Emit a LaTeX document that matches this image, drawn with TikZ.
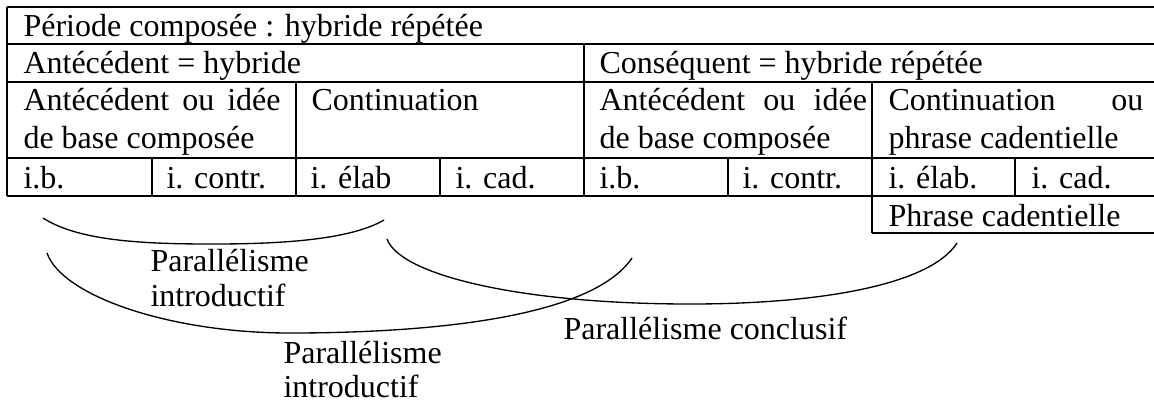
\documentclass[tikz,border=0pt]{standalone}
\usepackage{fontspec}
\setmainfont{Liberation Serif}
\begin{document}
\begin{tikzpicture}[x=0.375pt,y=-0.375pt,
  grid/.style={line width=0.8pt},
  arc/.style={line width=0.5pt},
  txt/.style={anchor=base west,inner sep=0pt,font=\fontsize{12}{13.8}\selectfont}]
\useasboundingbox (0,0) rectangle (1154,402);
% table lines
\draw[grid] (7,7) -- (1154,7);
\draw[grid] (7,44) -- (1154,44);
\draw[grid] (7,82) -- (1154,82);
\draw[grid] (7,158) -- (1154,158);
\draw[grid] (7,196) -- (1154,196);
\draw[grid] (872,233) -- (1154,233);
\draw[grid] (7,7) -- (7,196);
\draw[grid] (584,44) -- (584,196);
\draw[grid] (296,82) -- (296,196);
\draw[grid] (872,82) -- (872,233);
\foreach \x in {152,440,728,1015} \draw[grid] (\x,158) -- (\x,196);
% texts
\node[txt] (t1) at (23,36) {Période composée : hybride répétée};
\node[txt] (t2a) at (23,73) {Antécédent = hybride};
\node[txt] (t2b) at (599,73) {Conséquent = hybride répétée};
\node[txt] (t3a1) at (23,110) {\makebox[96.4pt][s]{Antécédent ou idée}};
\node[txt] (t3a2) at (23,148) {de base composée};
\node[txt] (t3b) at (311,110) {Continuation};
\node[txt] (t3c1) at (599,110) {\makebox[100.3pt][s]{Antécédent ou idée}};
\node[txt] (t3c2) at (599,148) {de base composée};
\node[txt] (t3d1) at (888,110) {\makebox[95.6pt][s]{Continuation ou}};
\node[txt] (t3d2) at (888,148) {phrase cadentielle};
\node[txt] (r1) at (23,188) {i.b.};
\node[txt] (r2) at (166,188) {i. contr.};
\node[txt] (r3) at (310,188) {i. élab};
\node[txt] (r4) at (455,188) {i. cad.};
\node[txt] (r5) at (599,188) {i.b.};
\node[txt] (r6) at (742,188) {i. contr.};
\node[txt] (r7) at (888,188) {i. élab.};
\node[txt] (r8) at (1031,188) {i. cad.};
\node[txt] (pc) at (888,226) {Phrase cadentielle};
% labels
\node[txt] (l1a) at (150,271) {Parallélisme};
\node[txt] (l1b) at (150,306) {introductif};
\node[txt] (l2a) at (283,363) {Parallélisme};
\node[txt] (l2b) at (283,397) {introductif};
\node[txt] (l3) at (563,339) {Parallélisme conclusif};
% arcs
\coordinate (a1s) at (43,218);
\coordinate (a1m) at (213,244);
\coordinate (a1e) at (384,220);
\coordinate (a2s) at (47,253);
\coordinate (a2m) at (290,333);
\coordinate (a2e) at (632,258);
\coordinate (a3s) at (387,239);
\coordinate (a3m) at (690,304);
\coordinate (a3e) at (957,243);
\draw[arc] (a1s) .. controls (80,242) and (150,244) .. (a1m)
  .. controls (280,244) and (350,240) .. (a1e);
\draw[arc] (a2s) .. controls (62,296) and (170,333) .. (a2m)
  .. controls (420,333) and (590,320) .. (a2e);
\draw[arc] (a3s) .. controls (400,275) and (520,304) .. (a3m)
  .. controls (820,304) and (930,285) .. (a3e);
\end{tikzpicture}
\end{document}
